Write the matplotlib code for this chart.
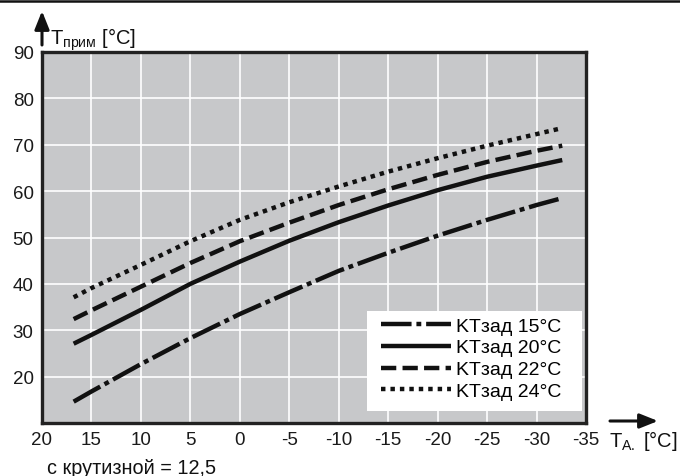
import matplotlib
matplotlib.use("Agg")
import matplotlib.pyplot as plt
from matplotlib.lines import Line2D
from matplotlib.patches import Rectangle

plt.rcParams['font.family'] = ['Liberation Sans', 'DejaVu Sans']
plt.rcParams['mathtext.fontset'] = 'custom'
plt.rcParams['mathtext.rm'] = 'Liberation Sans'
plt.rcParams['mathtext.it'] = 'Liberation Sans'
plt.rcParams['lines.scale_dashes'] = False

# ---- data ----
outdoor_temp = [16.8, 15, 10, 5, 0, -5, -10, -15, -20, -25, -30, -32.6]
kt15 = [14.6, 16.8, 22.7, 28.3, 33.5, 38.2, 42.8, 46.7, 50.4, 53.8, 57.0, 58.5]
kt20 = [27.1, 29.0, 34.4, 40.0, 44.8, 49.3, 53.3, 56.9, 60.2, 63.1, 65.5, 66.7]
kt22 = [32.4, 34.3, 39.4, 44.5, 49.2, 53.2, 57.0, 60.4, 63.5, 66.3, 68.7, 69.8]
kt24 = [37.1, 39.1, 44.1, 49.2, 53.8, 57.6, 61.0, 64.2, 67.1, 69.8, 72.3, 73.6]
series_labels = ['KTзад 15°C', 'KTзад 20°C', 'KTзад 22°C', 'KTзад 24°C']
x_ticks = [20, 15, 10, 5, 0, -5, -10, -15, -20, -25, -30, -35]
y_ticks = [20, 30, 40, 50, 60, 70, 80, 90]

W, H = 680, 477
fig = plt.figure(figsize=(W / 100, H / 100), dpi=100)
L, R, T, B = 42, 586, 53, 424
ax = fig.add_axes([L / W, 1 - B / H, (R - L) / W, (B - T) / H])
ax.set_facecolor('#c7c8ca')

ax.set_xlim(20, -35)
ax.set_ylim(10, 90)
ax.set_xticks(x_ticks)
ax.set_xticklabels([str(v) for v in x_ticks])
ax.set_yticks(y_ticks)
ax.set_yticklabels([str(v) for v in y_ticks])
ax.tick_params(length=0, labelsize=13.5, colors='#1a1a1a')
ax.tick_params(axis='x', pad=6)
ax.tick_params(axis='y', pad=6)
ax.grid(True, color='white', linewidth=1.2)
ax.set_axisbelow(True)
for s in ax.spines.values():
    s.set_linewidth(2.4)
    s.set_color('#222222')

lw = 3.2
col = '#111111'
series = [kt15, kt20, kt22, kt24]
dash_styles = [
    (0, (22, 3.5, 3.5, 3.5)),
    '-',
    (0, (11, 4.5)),
    (0, (3.2, 3.6)),
]
for vals, lab, ds in zip(series, series_labels, dash_styles):
    ax.plot(outdoor_temp, vals, color=col, linewidth=lw, linestyle=ds,
            dash_capstyle='butt', solid_capstyle='butt', label=lab)

# legend box
box_x0, box_x1, box_y0, box_y1 = 367, 582, 312, 412
ax.add_patch(Rectangle(((box_x0 - L) / (R - L), (B - box_y1) / (B - T)),
                       (box_x1 - box_x0) / (R - L), (box_y1 - box_y0) / (B - T),
                       transform=ax.transAxes, facecolor='white', edgecolor='none',
                       zorder=4))
leg = ax.legend(loc='upper left', bbox_to_anchor=((381 - L) / (R - L), (B - 318) / (B - T)),
                borderaxespad=0, frameon=False, fontsize=14,
                handlelength=3.6, handletextpad=0.25, labelspacing=0.22,
                borderpad=0)
leg.set_zorder(5)

# top rule
fig.add_artist(Line2D([0, 1], [1 - 1.5 / H, 1 - 1.5 / H], transform=fig.transFigure,
                      color='#111111', linewidth=1.8))

# axis arrows
arrow_style = '-|>,head_length=0.55,head_width=0.22'
ax.annotate('', xy=(42, H - 12), xytext=(42, H - 46), xycoords='figure pixels',
            textcoords='figure pixels',
            arrowprops=dict(arrowstyle=arrow_style, color='#111111', lw=2.2,
                            mutation_scale=20, shrinkA=0, shrinkB=0))
ax.annotate('', xy=(658, H - 422), xytext=(610, H - 422), xycoords='figure pixels',
            textcoords='figure pixels',
            arrowprops=dict(arrowstyle=arrow_style, color='#111111', lw=2.2,
                            mutation_scale=20, shrinkA=0, shrinkB=0))

fig.text(50 / W, (H - 45) / H, r'T$_{\mathrm{прим}}$ [°C]', fontsize=14.5,
         ha='left', va='baseline', color='#111111')
fig.text(609 / W, (H - 447) / H, r'T$_{\mathrm{A.}}$ [°C]', fontsize=14.5,
         ha='left', va='baseline', color='#111111')
fig.text(47 / W, (H - 474) / H, 'с крутизной = 12,5', fontsize=14.3,
         ha='left', va='baseline', color='#111111')

fig.savefig('out.png', dpi=100)
